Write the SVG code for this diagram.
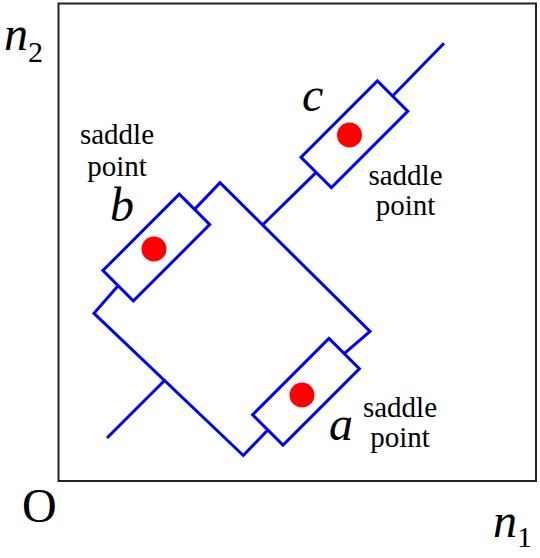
<svg xmlns="http://www.w3.org/2000/svg" xmlns:xlink="http://www.w3.org/1999/xlink" width="540" height="558" viewBox="0 0 540 558">
<style>
.frame{fill:none;stroke:#222;stroke-width:2}
.ln{fill:none;stroke:#0000ff;stroke-width:3;stroke-linejoin:miter}
.dot{fill:#ff0000}
text{font-family:"Liberation Serif","Times New Roman",Times,"DejaVu Serif",serif;fill:#000}
.lbl{font-size:29px;text-anchor:middle}
.let{font-size:48px;font-style:italic}
.ax{font-size:48px}
.sub{font-size:30px;font-style:normal}
</style>
<defs>
<rect id="box" x="-54" y="-21.5" width="108" height="43" class="ln"/>
</defs>
<rect class="frame" x="58.5" y="3.5" width="477.5" height="477.5"/>
<g id="connectors">
<path class="ln" d="M344.2 353.6 L370 331.5 L220 182.7 L194.5 209.4 M118.1 285.8 L94 313.3 L243.3 455.5 L267.8 430"/>
<path class="ln" d="M262.5 225 L316.2 172.4 M392.6 96 L444 43.3"/>
<path class="ln" d="M107 438 L164.8 380.2"/>
</g>
<g id="node-a">
<use xlink:href="#box" transform="translate(306 391.8) rotate(-45)"/>
<circle class="dot" cx="302" cy="395" r="12.5"/>
<text class="let" x="329" y="440">a</text>
<text class="lbl" x="400" y="416.5">saddle</text>
<text class="lbl" x="400" y="446.5">point</text>
</g>
<g id="node-b">
<use xlink:href="#box" transform="translate(156.3 247.6) rotate(-45)"/>
<circle class="dot" cx="154" cy="249" r="12.5"/>
<text class="let" x="110" y="221">b</text>
<text class="lbl" x="117" y="143.5">saddle</text>
<text class="lbl" x="117" y="176">point</text>
</g>
<g id="node-c">
<use xlink:href="#box" transform="translate(354.4 134.2) rotate(-45)"/>
<circle class="dot" cx="349.5" cy="135" r="12.5"/>
<text class="let" x="302" y="111">c</text>
<text class="lbl" x="405.5" y="185">saddle</text>
<text class="lbl" x="405.5" y="215">point</text>
</g>
<g id="axes">
<text class="ax" x="22" y="522">O</text>
<text class="let" x="4" y="50">n<tspan class="sub" dy="12">2</tspan></text>
<text class="let" x="493" y="537">n<tspan class="sub" dy="10">1</tspan></text>
</g>
</svg>
